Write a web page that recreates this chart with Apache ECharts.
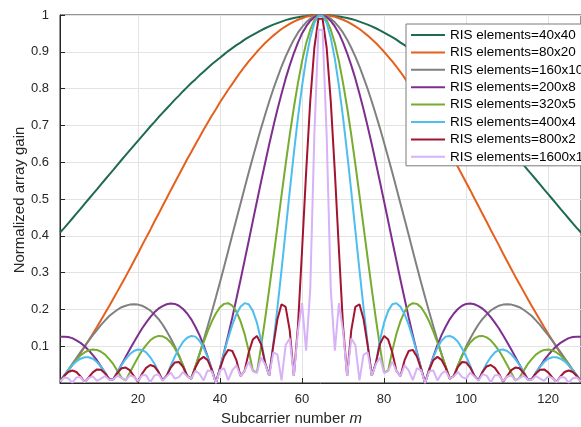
<!DOCTYPE html>
<html><head><meta charset="utf-8">
<script src="https://cdn.jsdelivr.net/npm/echarts@6/dist/echarts.min.js"></script>
<style>html,body{margin:0;padding:0;background:#fff;}#c{width:581px;height:427px;}</style>
</head><body><div id="c"></div>
<script>
const seriesNames = ['RIS elements=40x40','RIS elements=80x20','RIS elements=160x10','RIS elements=200x8','RIS elements=320x5','RIS elements=400x4','RIS elements=800x2','RIS elements=1600x1'];
const seriesColors = ['#1f6b4e','#e4601c','#808080','#7e2f8e','#77ac30','#4dbeee','#a2142f','#d7b2f7'];
const xTickValues = [20,40,60,80,100,120];

// Normalized array gain for subcarriers m = 1..128
const gain40x40 = [0.409,0.421,0.434,0.447,0.460,0.473,0.487,0.500,0.513,0.526,0.540,0.553,0.566,0.579,0.593,0.606,0.619,0.632,0.645,0.658,0.671,0.684,0.697,0.709,0.722,0.734,0.746,0.758,0.770,0.781,0.793,0.804,0.815,0.825,0.836,0.846,0.856,0.866,0.875,0.884,0.893,0.902,0.910,0.918,0.925,0.933,0.940,0.946,0.952,0.958,0.964,0.969,0.974,0.978,0.982,0.986,0.989,0.992,0.994,0.996,0.997,0.999,0.999,1.000,
1.000,0.999,0.999,0.997,0.996,0.994,0.992,0.989,0.986,0.982,0.978,0.974,0.969,0.964,0.958,0.952,0.946,0.940,0.933,0.925,0.918,0.910,0.902,0.893,0.884,0.875,0.866,0.856,0.846,0.836,0.825,0.815,0.804,0.793,0.781,0.770,0.758,0.746,0.734,0.722,0.709,0.697,0.684,0.671,0.658,0.645,0.632,0.619,0.606,0.593,0.579,0.566,0.553,0.540,0.526,0.513,0.500,0.487,0.473,0.460,0.447,0.434,0.421,0.409];
const gain80x20 = [0.004,0.018,0.033,0.049,0.065,0.081,0.098,0.116,0.134,0.152,0.171,0.190,0.209,0.229,0.249,0.269,0.289,0.310,0.331,0.352,0.374,0.395,0.416,0.438,0.459,0.481,0.502,0.524,0.545,0.566,0.587,0.608,0.628,0.648,0.668,0.688,0.707,0.726,0.744,0.763,0.780,0.797,0.813,0.829,0.845,0.860,0.874,0.887,0.900,0.912,0.924,0.934,0.944,0.953,0.962,0.969,0.976,0.982,0.987,0.991,0.995,0.997,0.999,1.000,
1.000,0.999,0.997,0.995,0.991,0.987,0.982,0.976,0.969,0.962,0.953,0.944,0.934,0.924,0.912,0.900,0.887,0.874,0.860,0.845,0.829,0.813,0.797,0.780,0.763,0.744,0.726,0.707,0.688,0.668,0.648,0.628,0.608,0.587,0.566,0.545,0.524,0.502,0.481,0.459,0.438,0.416,0.395,0.374,0.352,0.331,0.310,0.289,0.269,0.249,0.229,0.209,0.190,0.171,0.152,0.134,0.116,0.098,0.081,0.065,0.049,0.033,0.018,0.004];
const gain160x10 = [0.004,0.020,0.035,0.052,0.068,0.084,0.100,0.115,0.130,0.144,0.158,0.170,0.182,0.191,0.199,0.206,0.210,0.213,0.214,0.213,0.210,0.204,0.197,0.186,0.174,0.159,0.141,0.121,0.099,0.075,0.048,0.019,0.012,0.045,0.079,0.116,0.154,0.193,0.233,0.274,0.316,0.359,0.402,0.445,0.487,0.530,0.572,0.613,0.653,0.692,0.729,0.765,0.799,0.830,0.860,0.887,0.911,0.933,0.952,0.967,0.980,0.990,0.996,1.000,
1.000,0.996,0.990,0.980,0.967,0.952,0.933,0.911,0.887,0.860,0.830,0.799,0.765,0.729,0.692,0.653,0.613,0.572,0.530,0.487,0.445,0.402,0.359,0.316,0.274,0.233,0.193,0.154,0.116,0.079,0.045,0.012,0.019,0.048,0.075,0.099,0.121,0.141,0.159,0.174,0.186,0.197,0.204,0.210,0.213,0.214,0.213,0.210,0.206,0.199,0.191,0.182,0.170,0.158,0.144,0.130,0.115,0.100,0.084,0.068,0.052,0.035,0.020,0.004];
const gain200x8 = [0.126,0.126,0.125,0.122,0.116,0.109,0.100,0.089,0.076,0.062,0.045,0.028,0.010,0.010,0.030,0.050,0.071,0.091,0.111,0.130,0.148,0.164,0.179,0.192,0.202,0.209,0.214,0.216,0.215,0.210,0.201,0.189,0.173,0.153,0.130,0.103,0.072,0.037,0.000,0.041,0.084,0.130,0.178,0.229,0.280,0.333,0.386,0.440,0.493,0.546,0.598,0.649,0.697,0.743,0.786,0.827,0.863,0.896,0.925,0.950,0.969,0.984,0.994,0.999,
0.999,0.994,0.984,0.969,0.950,0.925,0.896,0.863,0.827,0.786,0.743,0.697,0.649,0.598,0.546,0.493,0.440,0.386,0.333,0.280,0.229,0.178,0.130,0.084,0.041,0.000,0.037,0.072,0.103,0.130,0.153,0.173,0.189,0.201,0.210,0.215,0.216,0.214,0.209,0.202,0.192,0.179,0.164,0.148,0.130,0.111,0.091,0.071,0.050,0.030,0.010,0.010,0.028,0.045,0.062,0.076,0.089,0.100,0.109,0.116,0.122,0.125,0.126,0.126];
const gain320x5 = [0.004,0.020,0.035,0.050,0.063,0.075,0.083,0.089,0.091,0.090,0.085,0.077,0.065,0.051,0.033,0.014,0.007,0.028,0.049,0.069,0.088,0.103,0.116,0.124,0.128,0.127,0.121,0.110,0.094,0.073,0.048,0.019,0.012,0.045,0.078,0.110,0.140,0.167,0.189,0.206,0.215,0.217,0.210,0.194,0.168,0.133,0.088,0.034,0.028,0.098,0.174,0.255,0.339,0.424,0.510,0.594,0.674,0.748,0.815,0.874,0.923,0.960,0.986,0.998,
0.998,0.986,0.960,0.923,0.874,0.815,0.748,0.674,0.594,0.510,0.424,0.339,0.255,0.174,0.098,0.028,0.034,0.088,0.133,0.168,0.194,0.210,0.217,0.215,0.206,0.189,0.167,0.140,0.110,0.078,0.045,0.012,0.019,0.048,0.073,0.094,0.110,0.121,0.127,0.128,0.124,0.116,0.103,0.088,0.069,0.049,0.028,0.007,0.014,0.033,0.051,0.065,0.077,0.085,0.090,0.091,0.089,0.083,0.075,0.063,0.050,0.035,0.020,0.004];
const gain400x4 = [0.004,0.020,0.035,0.048,0.059,0.066,0.070,0.070,0.066,0.057,0.044,0.028,0.010,0.010,0.030,0.049,0.065,0.078,0.087,0.091,0.090,0.083,0.070,0.053,0.031,0.007,0.020,0.047,0.072,0.094,0.112,0.123,0.128,0.126,0.115,0.096,0.070,0.037,0.000,0.041,0.082,0.122,0.158,0.187,0.207,0.217,0.214,0.196,0.164,0.117,0.055,0.020,0.107,0.204,0.307,0.414,0.521,0.624,0.721,0.807,0.881,0.938,0.978,0.998,
0.998,0.978,0.938,0.881,0.807,0.721,0.624,0.521,0.414,0.307,0.204,0.107,0.020,0.055,0.117,0.164,0.196,0.214,0.217,0.207,0.187,0.158,0.122,0.082,0.041,0.000,0.037,0.070,0.096,0.115,0.126,0.128,0.123,0.112,0.094,0.072,0.047,0.020,0.007,0.031,0.053,0.070,0.083,0.090,0.091,0.087,0.078,0.065,0.049,0.030,0.010,0.010,0.028,0.044,0.057,0.066,0.070,0.070,0.066,0.059,0.048,0.035,0.020,0.004];
const gain800x2 = [0.004,0.019,0.030,0.034,0.030,0.018,0.002,0.015,0.029,0.037,0.036,0.026,0.010,0.010,0.028,0.040,0.042,0.035,0.019,0.003,0.025,0.041,0.049,0.045,0.030,0.007,0.020,0.042,0.056,0.057,0.044,0.019,0.012,0.042,0.063,0.071,0.062,0.036,0.000,0.039,0.072,0.090,0.087,0.062,0.019,0.033,0.083,0.118,0.128,0.106,0.054,0.020,0.102,0.173,0.214,0.207,0.143,0.019,0.154,0.360,0.573,0.766,0.911,0.990,
0.990,0.911,0.766,0.573,0.360,0.154,0.019,0.143,0.207,0.214,0.173,0.102,0.020,0.054,0.106,0.128,0.118,0.083,0.033,0.019,0.062,0.087,0.090,0.072,0.039,0.000,0.036,0.062,0.071,0.063,0.042,0.012,0.019,0.044,0.057,0.056,0.042,0.020,0.007,0.030,0.045,0.049,0.041,0.025,0.003,0.019,0.035,0.042,0.040,0.028,0.010,0.010,0.026,0.036,0.037,0.029,0.015,0.002,0.018,0.030,0.034,0.030,0.019,0.004];
const gain1600x1 = [0.004,0.015,0.013,0.001,0.015,0.016,0.002,0.014,0.018,0.006,0.012,0.019,0.009,0.010,0.020,0.013,0.007,0.021,0.017,0.005,0.021,0.021,0.002,0.020,0.024,0.006,0.018,0.028,0.012,0.016,0.030,0.018,0.012,0.033,0.025,0.007,0.034,0.032,0.000,0.035,0.040,0.008,0.034,0.048,0.019,0.032,0.058,0.032,0.027,0.069,0.051,0.020,0.083,0.077,0.007,0.103,0.121,0.019,0.140,0.217,0.088,0.255,0.674,0.960,
0.960,0.674,0.255,0.088,0.217,0.140,0.019,0.121,0.103,0.007,0.077,0.083,0.020,0.051,0.069,0.027,0.032,0.058,0.032,0.019,0.048,0.034,0.008,0.040,0.035,0.000,0.032,0.034,0.007,0.025,0.033,0.012,0.018,0.030,0.016,0.012,0.028,0.018,0.006,0.024,0.020,0.002,0.021,0.021,0.005,0.017,0.021,0.007,0.013,0.020,0.010,0.009,0.019,0.012,0.006,0.018,0.014,0.002,0.016,0.015,0.001,0.013,0.015,0.004];

const allGains = [gain40x40,gain80x20,gain160x10,gain200x8,gain320x5,gain400x4,gain800x2,gain1600x1];
const FONT = '"Liberation Sans", Arial, Helvetica, sans-serif';
const TXT = '#262626';

const chart = echarts.init(document.getElementById('c'), null, {renderer:'canvas'});
const series = allGains.map((arr, i) => ({
  name: seriesNames[i],
  type: 'line',
  data: arr.map((v, j) => [j + 1, v]),
  showSymbol: false,
  symbol: 'none',
  smooth: false,
  lineStyle: {width: 2, color: seriesColors[i]},
  itemStyle: {color: seriesColors[i]},
  emphasis: {disabled: true}
}));

chart.setOption({
  animation: false,
  backgroundColor: '#ffffff',
  grid: {left: 60, top: 15, width: 529, height: 368, show: true, borderColor: TXT, borderWidth: 1, backgroundColor: 'transparent', containLabel: false},
  xAxis: {
    type: 'value', min: 1, max: 128, splitNumber: 6, minInterval: 20, maxInterval: 20,
    axisLine: {show: true, lineStyle: {color: TXT, width: 1}},
    axisTick: {show: true, inside: true, length: 5, lineStyle: {color: TXT}},
    axisLabel: {color: TXT, fontSize: 13, fontFamily: FONT, margin: 10, showMinLabel: false, showMaxLabel: false,
      formatter: v => xTickValues.indexOf(Math.round(v)) >= 0 ? String(Math.round(v)) : ''},
    splitLine: {show: true, lineStyle: {color: '#e3e3e3', width: 1}}
  },
  yAxis: {
    type: 'value', min: 0, max: 1, interval: 0.1,
    axisLine: {show: true, lineStyle: {color: TXT, width: 1}},
    axisTick: {show: true, inside: true, length: 5, lineStyle: {color: TXT}},
    axisLabel: {color: TXT, fontSize: 13, fontFamily: FONT, margin: 11,
      formatter: v => { const r = Math.round(v * 10) / 10; return r === 0 ? '' : String(r); }},
    splitLine: {show: true, lineStyle: {color: '#e3e3e3', width: 1}}
  },
  legend: {
    orient: 'vertical', left: 406, top: 24, padding: [4, 5, 2, 5],
    itemWidth: 34, itemHeight: 2, itemGap: 3.4, icon: 'rect',
    borderColor: '#7a7a7a', borderWidth: 1, backgroundColor: '#ffffff',
    textStyle: {fontSize: 13.5, fontFamily: FONT, color: '#000', lineHeight: 14},
    data: seriesNames,
    selectedMode: false
  },
  graphic: [
    {type: 'text', x: 19.5, y: 200, rotation: Math.PI / 2, z: 10,
      style: {text: 'Normalized array gain', font: '15px ' + FONT, fill: TXT, align: 'center', verticalAlign: 'middle'}},
    {type: 'text', x: 291.5, y: 419, z: 10,
      style: {text: 'Subcarrier number {i|m}', font: '15px ' + FONT, fill: TXT, align: 'center', verticalAlign: 'middle',
        rich: {i: {fontStyle: 'italic', fontSize: 15, fontFamily: FONT, fill: TXT}}}}
  ],
  series: series
});
</script></body></html>
